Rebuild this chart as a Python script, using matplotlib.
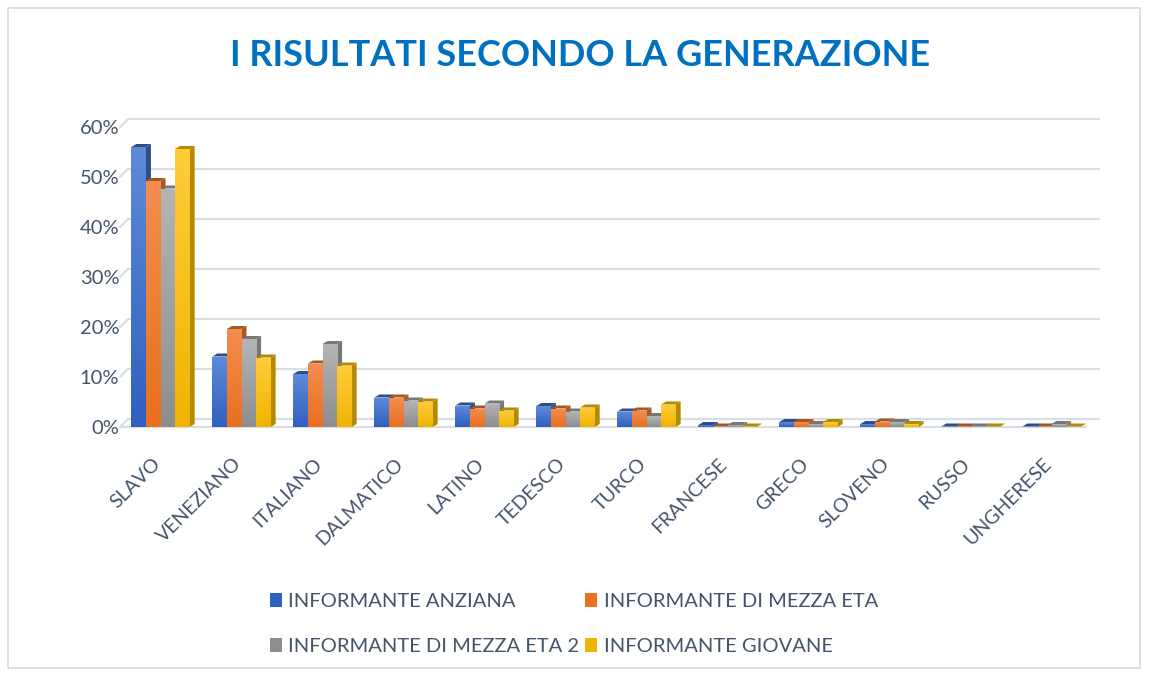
import numpy as np
import matplotlib
matplotlib.use('Agg')
import matplotlib.pyplot as plt
from matplotlib.patches import Polygon, Rectangle
from matplotlib.transforms import ScaledTranslation
from matplotlib.colors import LinearSegmentedColormap

# dati
lingue = ['SLAVO', 'VENEZIANO', 'ITALIANO', 'DALMATICO', 'LATINO', 'TEDESCO',
          'TURCO', 'FRANCESE', 'GRECO', 'SLOVENO', 'RUSSO', 'UNGHERESE']
anziana = [0.560, 0.141, 0.106, 0.059, 0.043, 0.042, 0.031, 0.004, 0.010, 0.006, 0.001, 0.001]
mezza_eta = [0.492, 0.196, 0.127, 0.059, 0.037, 0.037, 0.033, 0.001, 0.010, 0.011, 0.001, 0.001]
mezza_eta2 = [0.477, 0.176, 0.166, 0.053, 0.047, 0.031, 0.022, 0.004, 0.006, 0.010, 0.001, 0.006]
giovane = [0.556, 0.139, 0.123, 0.051, 0.033, 0.039, 0.045, 0.001, 0.010, 0.006, 0.001, 0.001]

serie = ['INFORMANTE ANZIANA', 'INFORMANTE DI MEZZA ETA',
         'INFORMANTE DI MEZZA ETA 2', 'INFORMANTE GIOVANE']
valori = [anziana, mezza_eta, mezza_eta2, giovane]
# (chiaro, scuro, lato)
colori = [('#5f8ad8', '#3060c0', '#2c4f8c'),
          ('#f38d4f', '#e8701e', '#a9571f'),
          ('#b4b4b4', '#8e8e8e', '#777777'),
          ('#ffcd3a', '#f0b400', '#b38a00')]

plt.rcParams['font.family'] = ['Lato', 'DejaVu Sans']
testo = '#44546a'
griglia = '#d9dde4'

W, H, DPI = 1149, 675, 100
fig = plt.figure(figsize=(W / DPI, H / DPI), dpi=DPI)
# bordo grigio
fig.patches.append(Rectangle((8 / W, 7 / H), 1132 / W, 660 / H, transform=fig.transFigure,
                             fill=False, edgecolor='#d9d9d9', linewidth=1.2))

left, right, bottom, top = 120, 1092, 427, 127
ax = fig.add_axes([left / W, 1 - bottom / H, (right - left) / W, (bottom - top) / H])
ax.set_xlim(-0.5, len(lingue) - 0.5)
ax.set_ylim(0, 0.6)
for s in ax.spines.values():
    s.set_visible(False)

# profondita 3D in pixel
gdx, gdy = 8, 8
bdx, bdy = 5, 3
px_x = (len(lingue)) / (right - left)
px_y = 0.6 / (bottom - top)

# griglia sulla parete di fondo
yt = np.arange(0, 0.61, 0.1)
back = ax.get_yaxis_transform() + ScaledTranslation(gdx / DPI, gdy / DPI, fig.dpi_scale_trans)
ax.hlines(yt, 0, 1.0, transform=back, color=griglia, lw=1.6, clip_on=False, zorder=0)
for y in yt:
    ax.plot([0, gdx * px_x / len(lingue)], [y, y + gdy * px_y], transform=ax.get_yaxis_transform(),
            color=griglia, lw=1.6, clip_on=False, zorder=0)
ax.hlines(0, 0, 0.995, transform=ax.get_yaxis_transform(), color=griglia, lw=1.6,
          clip_on=False, zorder=0)

x = np.arange(len(lingue))
w = 0.18
z = 2
for j, (nome, vals, col) in enumerate(zip(serie, valori, colori)):
    pos = x + (j - 1.5) * w
    bars = ax.bar(pos, vals, width=w, color=col[1], label=nome, zorder=-5)
    cmap = LinearSegmentedColormap.from_list('g', [col[1], col[0]])
    for b in bars:
        x0, x1, h = b.get_x(), b.get_x() + b.get_width(), b.get_height()
        ox, oy = bdx * px_x, bdy * px_y
        side = Polygon([(x1, 0), (x1 + ox, oy), (x1 + ox, h + oy), (x1, h)],
                       facecolor=col[2], edgecolor='none', zorder=z + b.get_x())
        cap = Polygon([(x0, h), (x0 + ox, h + oy), (x1 + ox, h + oy), (x1, h)],
                      facecolor=col[2], edgecolor='none', zorder=z + b.get_x())
        ax.add_patch(side)
        ax.add_patch(cap)
        front = Rectangle((x0, 0), x1 - x0, h, facecolor='none', edgecolor='none')
        ax.add_patch(front)
        im = ax.imshow(np.linspace(0, 1, 50).reshape(-1, 1), cmap=cmap, origin='lower',
                       extent=(x0, x1, 0, max(h, 1e-4)), aspect='auto',
                       zorder=z + b.get_x() + 0.01)
        im.set_clip_path(front)

ax.set_xlim(-0.5, len(lingue) - 0.5)
ax.set_ylim(0, 0.6)
ax.set_xticks(x)
ax.set_xticklabels([])
# etichette categorie ruotate, spostate un po' a sinistra come in Excel
etich = ax.get_xaxis_transform() + ScaledTranslation(-9 / DPI, -28 / DPI, fig.dpi_scale_trans)
for i, nome in enumerate(lingue):
    ax.text(i, 0, nome, transform=etich, rotation=45, ha='right', va='top',
            rotation_mode='anchor', fontsize=14, color=testo, clip_on=False)
ax.set_yticks(yt)
ax.set_yticklabels(['%d%%' % round(v * 100) for v in yt], fontsize=14.5, color=testo)
ax.tick_params(length=0)
ax.tick_params(axis='y', pad=0.5)

fig.text(0.505, 1 - 55 / H, 'I RISULTATI SECONDO LA GENERAZIONE', ha='center', va='center',
         fontsize=26, fontweight='bold', color='#0070c0')

handles = [Rectangle((0, 0), 1, 1, facecolor=c[1]) for c in colori]
ordine = [0, 2, 1, 3]
fig.legend([handles[i] for i in ordine], [serie[i] for i in ordine], ncol=2, loc='center',
           bbox_to_anchor=(0.4995, 1 - 624 / H), frameon=False, fontsize=14.5, labelcolor=testo,
           handlelength=0.6, handleheight=0.7, handletextpad=0.3, columnspacing=0.3,
           labelspacing=1.4)

plt.savefig('out.png', dpi=DPI)
